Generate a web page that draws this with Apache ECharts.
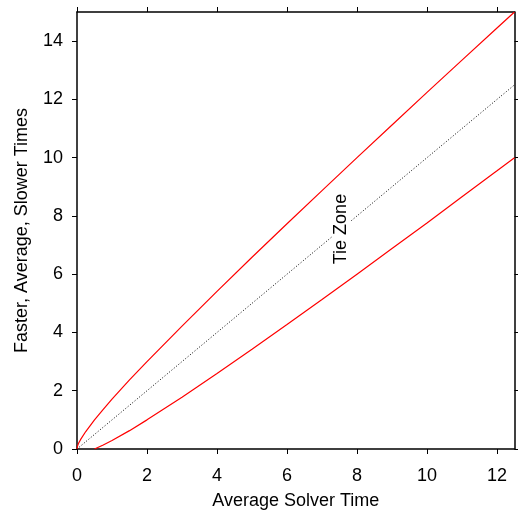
<!DOCTYPE html>
<html><head><meta charset="utf-8">
<script src="https://cdn.jsdelivr.net/npm/echarts@6/dist/echarts.min.js"></script>
<style>html,body{margin:0;padding:0;background:#fff}#c{width:518px;height:510px}</style>
</head><body><div id="c"></div>
<script>
const xTicks = [0, 2, 4, 6, 8, 10, 12];
const yTicks = [0, 2, 4, 6, 8, 10, 12, 14];
const fasterX = [0, 0.02, 0.05, 0.1, 0.25, 0.5, 0.75, 1, 1.5, 2, 3, 4, 5, 6, 7, 8, 9, 10, 11, 12, 12.5];
const fasterY = [0, 0.12, 0.21, 0.32, 0.6, 1.0, 1.36, 1.71, 2.37, 3.0, 4.22, 5.41, 6.58, 7.73, 8.87, 10.0, 11.12, 12.24, 13.35, 14.45, 15.0];
const averageX = [0, 12.5];
const averageY = [0, 12.5];
const slowerX = [0.5, 0.75, 1, 1.5, 2, 3, 4, 5, 6, 7, 8, 9, 10, 11, 12, 12.5];
const slowerY = [0, 0.14, 0.29, 0.63, 1.0, 1.78, 2.59, 3.42, 4.27, 5.13, 6.0, 6.88, 7.76, 8.66, 9.55, 10.0];
const tieLabel = { text: 'Tie Zone', x: 7.55, y: 7.55 };

const zip = (a, b) => a.map((v, i) => [v, b[i]]);
const FONT = '"Liberation Sans", Arial, sans-serif';
const axLine = { show: true, onZero: false, lineStyle: { color: '#000', width: 1.5 } };
const tick = (vals) => ({ show: true, inside: false, length: 5, customValues: vals, lineStyle: { color: '#000', width: 1 } });

const chart = echarts.init(document.getElementById('c'), null, { renderer: 'canvas' });
chart.setOption({
  animation: false,
  backgroundColor: '#fff',
  grid: { left: 77, right: 3.5, top: 12, bottom: 61, containLabel: false, outerBoundsMode: 'none' },
  xAxis: [
    { type: 'value', position: 'bottom', min: 0, max: 12.5, axisLine: axLine, axisTick: tick(xTicks), splitLine: { show: false },
      axisLabel: { customValues: xTicks, color: '#000', fontSize: 18, fontFamily: FONT, margin: 18 },
      name: 'Average Solver Time', nameLocation: 'middle', nameGap: 43,
      nameTextStyle: { color: '#000', fontSize: 18, fontFamily: FONT } },
    { type: 'value', position: 'top', min: 0, max: 12.5, axisLine: axLine, axisTick: tick(xTicks), splitLine: { show: false },
      axisLabel: { show: false } }
  ],
  yAxis: [
    { type: 'value', position: 'left', min: 0, max: 15, axisLine: axLine, axisTick: tick(yTicks), splitLine: { show: false },
      axisLabel: { customValues: yTicks, color: '#000', fontSize: 18, fontFamily: FONT, margin: 14 },
      name: 'Faster, Average, Slower Times', nameLocation: 'middle', nameGap: 46,
      nameTextStyle: { color: '#000', fontSize: 18, fontFamily: FONT } },
    { type: 'value', position: 'right', min: 0, max: 15, axisLine: axLine, axisTick: tick(yTicks), splitLine: { show: false },
      axisLabel: { show: false } }
  ],
  series: [
    { type: 'line', name: 'Faster', data: zip(fasterX, fasterY), showSymbol: false, smooth: false,
      lineStyle: { color: '#ff0000', width: 1.2 }, z: 3 },
    { type: 'line', name: 'Average', data: zip(averageX, averageY), showSymbol: false,
      lineStyle: { color: '#000', width: 1, type: [1, 2] }, z: 2,
      markPoint: { symbol: 'circle', symbolSize: 0, silent: true,
        data: [{ coord: [tieLabel.x, tieLabel.y], value: tieLabel.text }],
        label: { show: true, position: 'inside', formatter: tieLabel.text, rotate: 90, color: '#000',
          fontSize: 18, fontFamily: FONT, backgroundColor: '#fff', padding: [0, 1] } } },
    { type: 'line', name: 'Slower', data: zip(slowerX, slowerY), showSymbol: false, smooth: false,
      lineStyle: { color: '#ff0000', width: 1.2 }, z: 3 }
  ]
});
</script></body></html>
